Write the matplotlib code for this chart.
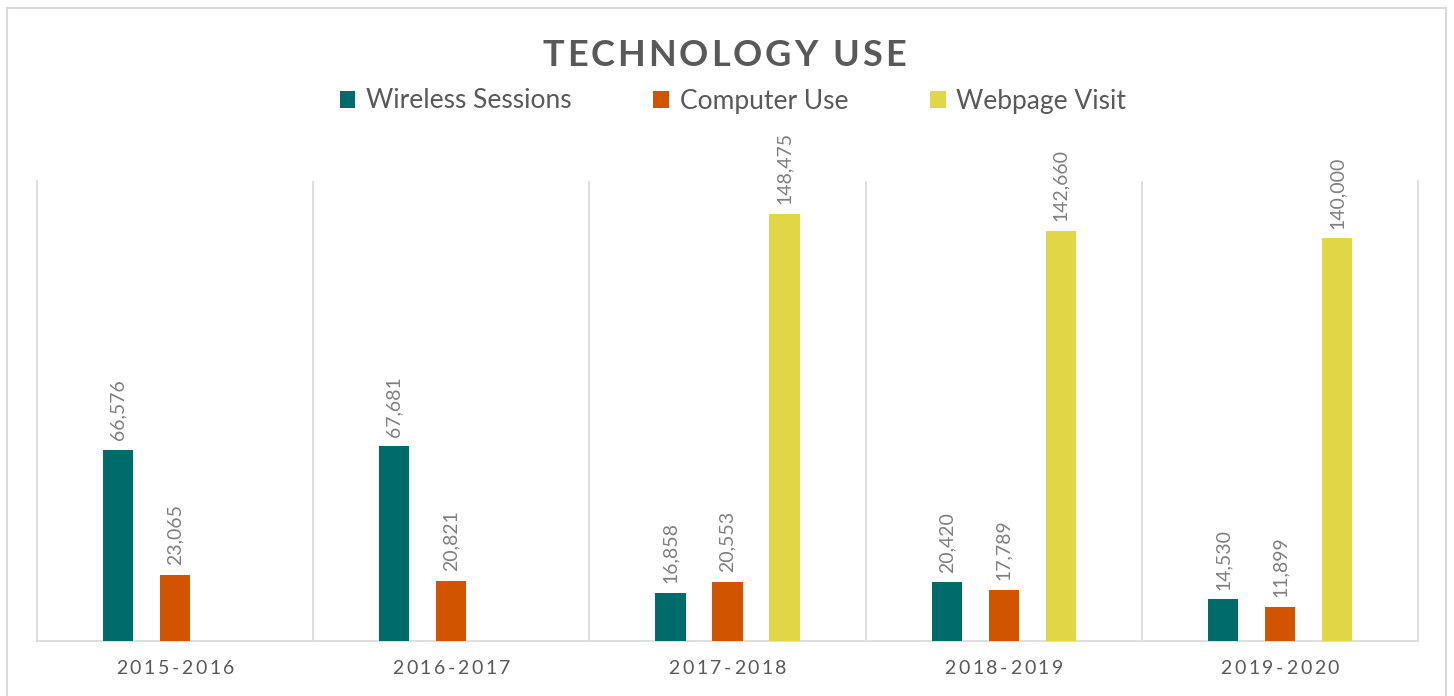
import matplotlib
matplotlib.use("Agg")
import matplotlib.pyplot as plt
from matplotlib.patches import Rectangle
import numpy as np

categories = ["2015-2016", "2016-2017", "2017-2018", "2018-2019", "2019-2020"]
series_names = ["Wireless Sessions", "Computer Use", "Webpage Visit"]
wireless = [66576, 67681, 16858, 20420, 14530]
computer = [23065, 20821, 20553, 17789, 11899]
webpage = [None, None, 148475, 142660, 140000]
colors = ["#006B6B", "#D15400", "#E1D746"]
title = "TECHNOLOGY USE"

plt.rcParams['font.family'] = ['Lato', 'DejaVu Sans']

W, H = 1454, 696
fig = plt.figure(figsize=(W / 100, H / 100), dpi=100)
renderer = fig.canvas.get_renderer()


def spaced_text(s, xc_px, yc_px, spacing_px, **kw):
    """Place string s centred at (xc_px, yc_px) in figure pixels (y from top) with extra letter spacing."""
    widths = []
    for ch in s:
        if ch == " ":
            t = fig.text(0, 0, "a a", **kw)
            w_full = t.get_window_extent(renderer).width
            t.set_text("aa")
            w = w_full - t.get_window_extent(renderer).width
        else:
            t = fig.text(0, 0, ch, **kw)
            w = t.get_window_extent(renderer).width
        t.remove()
        widths.append(w)
    total = sum(widths) + spacing_px * (len(s) - 1)
    x = xc_px - total / 2
    for ch, w in zip(s, widths):
        if ch != " ":
            fig.text(x / W, 1 - yc_px / H, ch, ha="left", va="center", **kw)
        x += w + spacing_px


ax = fig.add_axes([37 / W, 1 - 641 / H, (1418 - 37) / W, (641 - 181) / H])

x = np.arange(len(categories))
offsets = [-0.2065, 0.0, 0.2065]
width = 0.109
handles = []
for vals, name, col, off in zip([wireless, computer, webpage], series_names, colors, offsets):
    xs = [xi + off for xi, v in zip(x, vals) if v is not None]
    vs = [v for v in vals if v is not None]
    b = ax.bar(xs, vs, width=width, color=col, label=name, zorder=3)
    handles.append(b)
    for xi, v in zip(xs, vs):
        ax.annotate(f"{v:,}", (xi, v), xytext=(0, 7), textcoords="offset points",
                    rotation=90, ha="center", va="bottom", fontsize=14, color="#7F7F7F")

ax.set_xlim(-0.5, len(categories) - 0.5)
ax.set_ylim(0, 160000)
ax.set_yticks([])
grid_col = "#D9D9D9"
for b in np.arange(0.5, len(categories) - 0.5, 1.0):
    ax.axvline(b, color=grid_col, lw=1.2, zorder=1)
for s in ["left", "right", "bottom"]:
    ax.spines[s].set_color(grid_col)
    ax.spines[s].set_linewidth(1.2)
ax.spines["top"].set_visible(False)
ax.set_xticks(x)
ax.set_xticklabels([])
ax.tick_params(axis="x", length=0)

# category labels with letter spacing, centred under each category
for xi, c in zip(x, categories):
    xd = ax.transData.transform((xi, 0))[0]
    spaced_text(c, xd, 668, 2.6, fontsize=14, color="#595959")

spaced_text(title, 724, 56, 3.0, fontsize=26, fontweight="bold", color="#595959")

fig.legend(handles=handles, labels=series_names, loc="center", bbox_to_anchor=(733 / W, 1 - 101 / H),
           ncol=3, frameon=False, fontsize=19, labelcolor="#595959",
           handlelength=0.6, handleheight=0.6, handletextpad=0.4, columnspacing=3.1)

fig.patches.append(Rectangle((7 / W, -0.05), (1446 - 7) / W, 1.05 - 8 / H, transform=fig.transFigure,
                             fill=False, edgecolor=grid_col, lw=1.5))

fig.savefig("out.png", dpi=100, facecolor="white")
